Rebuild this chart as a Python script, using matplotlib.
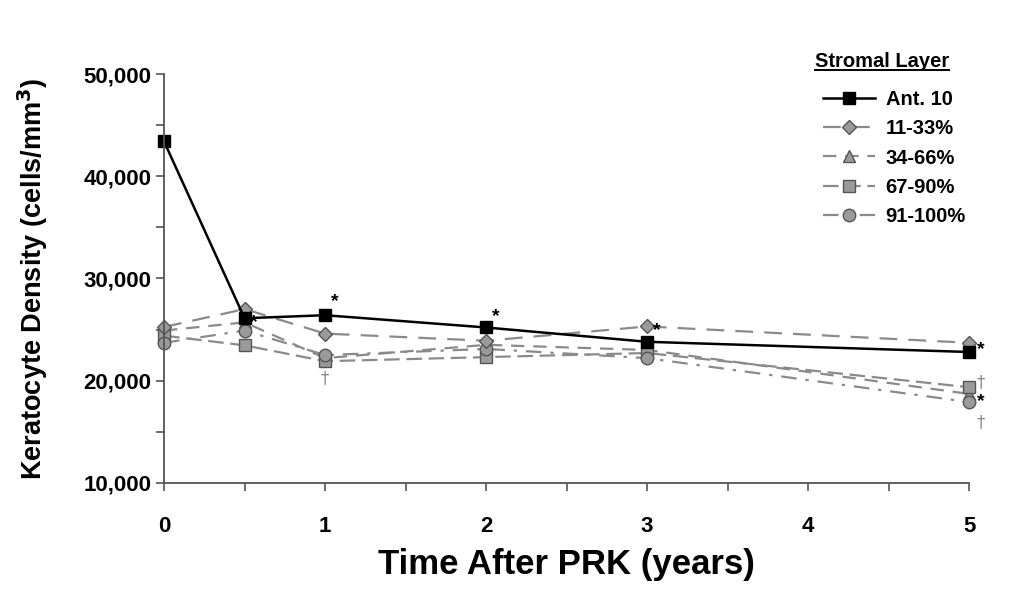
import numpy as np
import matplotlib.pyplot as plt
from matplotlib.lines import Line2D
from matplotlib.ticker import MultipleLocator, FuncFormatter

plt.rcParams['font.family'] = ['Liberation Sans', 'DejaVu Sans']
plt.rcParams['font.weight'] = 'bold'

# time points (years after PRK)
years = [0, 0.5, 1, 2, 3, 5]

# keratocyte density per stromal layer (cells/mm^3)
ant10 = [43400, 26100, 26400, 25200, 23800, 22800]
l11_33 = [25250, 27000, 24600, 23900, 25300, 23700]
l34_66 = [24900, 25700, 22200, 23500, 23000, 18700]
l67_90 = [24400, 23450, 21900, 22300, 22700, 19350]
l91_100 = [23700, 24900, 22500, 23100, 22200, 17900]

# significance marks: (x, y, symbol)
stars = [(0.56, 25700), (1.06, 27700), (2.06, 26300), (3.06, 24900), (5.07, 23000), (5.07, 17900)]
daggers = [(1.0, 20250), (5.07, 19850), (5.07, 15950)]

fig = plt.figure(figsize=(10.19, 6.02), dpi=100)
ax = fig.add_axes([0.161, 0.198, 0.79, 0.679])

grey = '#8a8a8a'
mface = '#9a9a9a'
medge = '#555555'

ax.plot(years, ant10, color='black', lw=1.8, marker='s', ms=9, mfc='black', mec='black',
        label='Ant. 10', zorder=6, clip_on=False)
ax.plot(years, l11_33, color=grey, lw=1.6, ls=(0, (8, 5)), marker='D', ms=7.5, mfc=mface, mec=medge,
        label='11-33%', zorder=5, clip_on=False)
ax.plot(years, l34_66, color=grey, lw=1.6, ls=(0, (6, 4)), marker='^', ms=9, mfc=mface, mec=medge,
        label='34-66%', zorder=4, clip_on=False)
ax.plot(years, l67_90, color=grey, lw=1.6, ls=(0, (7, 3)), marker='s', ms=9, mfc=mface, mec=medge,
        label='67-90%', zorder=4, clip_on=False)
ax.plot(years, l91_100, color=grey, lw=1.6, ls=(0, (7, 4, 1.5, 4)), marker='o', ms=9, mfc=mface, mec=medge,
        label='91-100%', zorder=4, clip_on=False)

for x, y in stars:
    ax.text(x, y, '*', fontsize=14, fontweight='bold', color='black', ha='center', va='center',
            zorder=7, clip_on=False)
for x, y in daggers:
    ax.text(x, y, '\u2020', fontsize=12, fontweight='normal', color=grey, ha='center', va='center',
            family='DejaVu Sans', zorder=7, clip_on=False)

ax.set_xlim(0, 5)
ax.set_ylim(10000, 50000)
ax.xaxis.set_major_locator(MultipleLocator(1))
ax.xaxis.set_minor_locator(MultipleLocator(0.5))
ax.yaxis.set_major_locator(MultipleLocator(10000))
ax.yaxis.set_minor_locator(MultipleLocator(5000))
ax.yaxis.set_major_formatter(FuncFormatter(lambda v, p: f'{int(v):,}'))

for s in ['top', 'right']:
    ax.spines[s].set_visible(False)
for s in ['left', 'bottom']:
    ax.spines[s].set_color('#555555')
    ax.spines[s].set_linewidth(1.3)
ax.spines['left'].set_zorder(8)

ax.tick_params(axis='both', which='both', direction='out', length=6, width=1.2, color='#555555')
ax.tick_params(axis='x', which='major', labelsize=16, pad=18)
ax.tick_params(axis='y', which='major', labelsize=16, pad=3)

ax.set_xlabel('Time After PRK (years)', fontsize=25, fontweight='bold', labelpad=8)
ax.set_ylabel('Keratocyte Density (cells/mm$^\\mathbf{3}$)', fontsize=19.5, fontweight='bold', labelpad=24)

leg = ax.legend(loc='upper left', bbox_to_anchor=(0.79, 0.88), bbox_transform=fig.transFigure,
                frameon=False, fontsize=14.5, handlelength=2.6, labelspacing=0.5, handletextpad=0.5)
for t in leg.get_texts():
    t.set_fontweight('bold')

title = fig.text(0.8, 0.882, 'Stromal Layer', fontsize=14.5, fontweight='bold', ha='left', va='bottom')
fig.canvas.draw()
bb = title.get_window_extent(fig.canvas.get_renderer()).transformed(fig.transFigure.inverted())
fig.lines.append(Line2D([bb.x0, bb.x1], [bb.y0 + 0.002, bb.y0 + 0.002], color='black', lw=1.4,
                        transform=fig.transFigure))

fig.savefig('out.png', dpi=100)
